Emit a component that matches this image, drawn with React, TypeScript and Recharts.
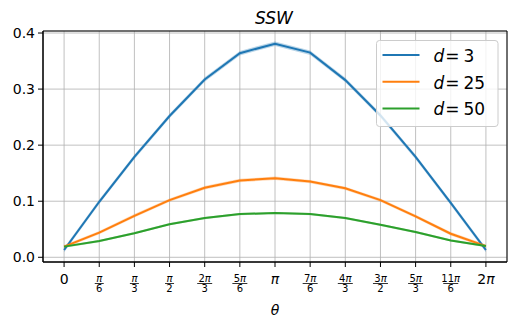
import React from 'react'
import { ComposedChart, Line, Area, XAxis, YAxis, CartesianGrid, ReferenceArea } from 'recharts'

const thetaIdx = [0, 1, 2, 3, 4, 5, 6, 7, 8, 9, 10, 11, 12]
const thetaNum = ['0', 'π', 'π', 'π', '2π', '5π', 'π', '7π', '4π', '3π', '5π', '11π', '2π']
const thetaDen = ['', '6', '3', '2', '3', '6', '', '6', '3', '2', '3', '6', '']

const ssw3 = [0.013, 0.099, 0.179, 0.252, 0.317, 0.364, 0.381, 0.365, 0.316, 0.253, 0.179, 0.097, 0.013]
const ssw25 = [0.019, 0.044, 0.074, 0.102, 0.124, 0.137, 0.141, 0.135, 0.123, 0.102, 0.073, 0.042, 0.02]
const ssw50 = [0.019, 0.029, 0.043, 0.059, 0.07, 0.077, 0.079, 0.077, 0.07, 0.058, 0.045, 0.03, 0.02]
const spread3 = 0.004
const spread25 = 0.003
const spread50 = 0.002

const yTicks = [0, 0.1, 0.2, 0.3, 0.4]

const series = [
    { key: 'd3', label: '3', color: '#1f77b4', values: ssw3, spread: spread3 },
    { key: 'd25', label: '25', color: '#ff7f0e', values: ssw25, spread: spread25 },
    { key: 'd50', label: '50', color: '#2ca02c', values: ssw50, spread: spread50 },
]

const data = thetaIdx.map((i) => {
    const row: any = { i }
    series.forEach((s) => {
        row[s.key] = s.values[i]
        row[s.key + 'band'] = [s.values[i] - s.spread, s.values[i] + s.spread]
    })
    return row
})

const FONT = "'DejaVu Sans', sans-serif"

const ThetaTick = (props: any) => {
    const { x, payload } = props
    const i = payload.value
    const num = thetaNum[i]
    const den = thetaDen[i]
    if (!den) {
        return (
            <text x={x} y={284} textAnchor="middle" fontFamily={FONT} fontSize={14} fill="#000">
                {num.split('').map((c: string, k: number) => (
                    <tspan key={k} fontStyle={c === 'π' ? 'italic' : 'normal'}>{c}</tspan>
                ))}
            </text>
        )
    }
    const w = num.length > 1 ? 15 : 9
    return (
        <g>
            <text x={x} y={281.5} textAnchor="middle" fontFamily={FONT} fontSize={10} fill="#000">
                {num.split('').map((c: string, k: number) => (
                    <tspan key={k} fontStyle={c === 'π' ? 'italic' : 'normal'}>{c}</tspan>
                ))}
            </text>
            <line x1={x - w / 2} x2={x + w / 2} y1={283.5} y2={283.5} stroke="#000" strokeWidth={0.8} />
            <text x={x} y={292} textAnchor="middle" fontFamily={FONT} fontSize={10} fill="#000">{den}</text>
        </g>
    )
}

const App = () => {
    return (
        <div style={{ position: 'absolute', left: 0, top: 0, width: 516, height: 327, background: '#fff' }}>
            <ComposedChart width={516} height={327} data={data} margin={{ top: 31, right: 9, bottom: 0, left: 0 }}>
                <CartesianGrid stroke="#b0b0b0" strokeWidth={0.8} />
                <XAxis
                    dataKey="i"
                    type="number"
                    domain={[-0.6, 12.6]}
                    ticks={thetaIdx}
                    interval={0}
                    height={65}
                    tickSize={5}
                    stroke="#000"
                    tick={<ThetaTick />}
                />
                <YAxis
                    type="number"
                    domain={[-0.0084, 0.4036]}
                    ticks={yTicks}
                    allowDataOverflow
                    width={43}
                    tickSize={5}
                    tickMargin={3}
                    stroke="#000"
                    tickFormatter={(v: number) => v.toFixed(1)}
                    tick={{ fill: '#000', fontSize: 14, fontFamily: FONT }}
                />
                {series.map((s) => (
                    <Area
                        key={s.key + 'band'}
                        dataKey={s.key + 'band'}
                        stroke="none"
                        fill={s.color}
                        fillOpacity={0.3}
                        isAnimationActive={false}
                        legendType="none"
                    />
                ))}
                {series.map((s) => (
                    <Line
                        key={s.key}
                        dataKey={s.key}
                        stroke={s.color}
                        strokeWidth={2}
                        dot={false}
                        type="linear"
                        isAnimationActive={false}
                    />
                ))}
                <ReferenceArea x1={-0.6} x2={12.6} y1={-0.0084} y2={0.4036} fill="none" stroke="#000" strokeWidth={1} />
            </ComposedChart>
            <svg width={516} height={327} style={{ position: 'absolute', left: 0, top: 0, pointerEvents: 'none' }}>
                <text x={274} y={24} textAnchor="middle" fontFamily={FONT} fontSize={17} fontStyle="italic" fill="#000">SSW</text>
                <text x={275} y={315} textAnchor="middle" fontFamily={FONT} fontSize={14} fontStyle="italic" fill="#000">θ</text>
                <rect x={376.5} y={40.5} width={121.5} height={86} rx={3} fill="#fff" fillOpacity={0.8} stroke="#cccccc" strokeWidth={1} />
                {series.map((s, k) => (
                    <g key={s.key}>
                        <line x1={382.5} x2={419.5} y1={55 + k * 26.7} y2={55 + k * 26.7} stroke={s.color} strokeWidth={2} />
                        <text x={433.5} y={62 + k * 26.7} fontFamily={FONT} fontSize={17} fill="#000">
                            <tspan fontStyle="italic">d</tspan>
                            <tspan dx={1}>=</tspan>
                            <tspan dx={4}>{s.label}</tspan>
                        </text>
                    </g>
                ))}
            </svg>
        </div>
    )
}

export default App
